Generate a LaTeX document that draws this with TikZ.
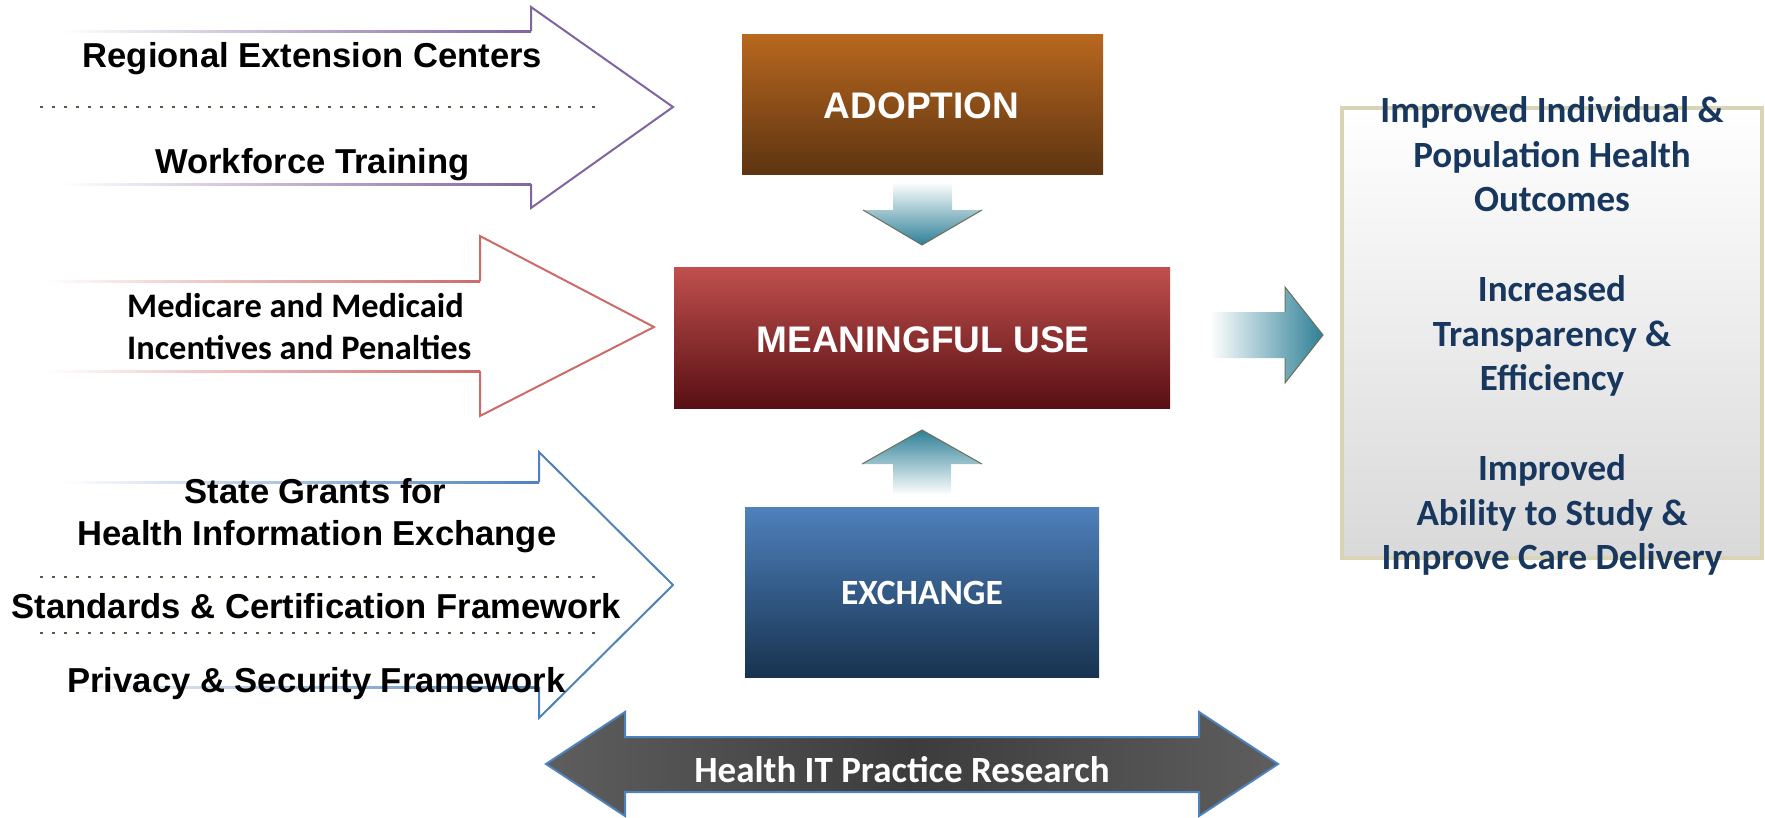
\documentclass[tikz,border=0pt]{standalone}
\usepackage{fontspec}
\setmainfont{Liberation Sans}
\newfontfamily\calfont{Carlito}
\definecolor{purp}{HTML}{8064A2}
\definecolor{redl}{HTML}{CD6B69}
\definecolor{bluel}{HTML}{4F81BD}
\definecolor{teal}{HTML}{2E8097}
\definecolor{headln}{HTML}{6E6E5C}
\definecolor{dotc}{HTML}{5F5A45}
\definecolor{navy}{HTML}{17375E}
\definecolor{adtop}{HTML}{B9681F}
\definecolor{adbot}{HTML}{5D3411}
\definecolor{mutop}{HTML}{C0504D}
\definecolor{mubot}{HTML}{580F13}
\definecolor{extop}{HTML}{4F81BD}
\definecolor{exbot}{HTML}{17334F}
\definecolor{outbd}{HTML}{D9D4B6}
\definecolor{darkg}{HTML}{3C3C3C}
\definecolor{midg}{HTML}{5E5E5E}
\tikzset{
  lefttxt/.style={anchor=base, inner sep=0pt, font=\fontsize{34.6}{41}\selectfont\bfseries},
  redtxt/.style={anchor=base west, inner sep=0pt, font=\calfont\fontsize{34.4}{41}\selectfont\bfseries},
  outtxt/.style={anchor=base, inner sep=0pt, text=navy, font=\calfont\fontsize{37}{45}\selectfont\bfseries},
  boxtxt/.style={anchor=base, inner sep=0pt, text=white, font=\fontsize{37}{45}\selectfont\bfseries},
  dotline/.style={dotc, line width=2.5pt, dash pattern=on 2.5pt off 9.5pt},
  outline/.style={line width=2pt, line join=miter},
}
\begin{document}
\begin{tikzpicture}[x=1pt,y=-1pt]
\useasboundingbox (0,0) rectangle (1765,817);

% ---- purple arrow
\shade[left color=white, right color=purp] (62,30) rectangle (531,32);
\shade[left color=white, right color=purp] (62,183) rectangle (531,185);
\draw[purp, outline] (531,31) -- (531,7) -- (673,107) -- (531,208) -- (531,184);
\draw[dotline] (40,107) -- (598,107);
\node[lefttxt] (rec) at (312.5,67) {Regional Extension Centers};
\node[lefttxt] (wft) at (312.5,173) {Workforce Training};

% ---- red arrow
\shade[left color=white, right color=redl] (45,280) rectangle (480,282);
\shade[left color=white, right color=redl] (45,370) rectangle (480,372);
\draw[redl, outline] (480,281) -- (480,236) -- (654,327) -- (480,416) -- (480,371);
\node[redtxt] (mm) at (127,317) {Medicare and Medicaid};
\node[redtxt] (ip) at (127,359) {Incentives and Penalties};

% ---- blue arrow
\shade[left color=white, right color=bluel] (62,481) rectangle (539,483);
\shade[left color=white, right color=bluel] (62,686) rectangle (539,688);
\draw[bluel, outline] (539,482) -- (539,452) -- (673,585) -- (539,718) -- (539,687);
\draw[dotline] (40,577) -- (598,577);
\draw[dotline] (40,633) -- (598,633);
\node[lefttxt] (sg) at (315.5,503) {State Grants for};
\node[lefttxt] (hie) at (317,545) {Health Information Exchange};
\node[lefttxt] (scf) at (316.5,618) {Standards \& Certification Framework};
\node[lefttxt] (psf) at (316.5,692) {Privacy \& Security Framework};

% ---- central boxes
\node[top color=adtop, bottom color=adbot, minimum width=361pt, minimum height=140pt, inner sep=0pt] (adopt) at (922.5,104) {};
\node[boxtxt] (adoptt) at (921.5,118) {ADOPTION};
\node[top color=mutop, bottom color=mubot, minimum width=496pt, minimum height=141pt, inner sep=0pt] (mu) at (922,337.5) {};
\node[boxtxt] (mut) at (923,352) {MEANINGFUL USE};
\node[top color=extop, bottom color=exbot, minimum width=354pt, minimum height=170pt, inner sep=0pt] (ex) at (922,592) {};
\node[boxtxt, font=\calfont\fontsize{35.5}{43}\selectfont\bfseries] (ext) at (922,604) {EXCHANGE};

% ---- down arrow
\shade[top color=white, bottom color=teal] (893,182) -- (952,182) -- (952,210) -- (982,210) -- (922,245) -- (863,210) -- (893,210) -- cycle;
\draw[headln, line width=1pt] (982,210) -- (922,245) -- (863,210);
% ---- up arrow
\shade[bottom color=white, top color=teal] (893,495) -- (951,495) -- (951,464) -- (982,464) -- (922,430) -- (862,464) -- (893,464) -- cycle;
\draw[headln, line width=1pt] (982,464) -- (922,430) -- (862,464);
% ---- right arrow
\shade[left color=white, right color=teal] (1210,312) -- (1285,312) -- (1285,287) -- (1323,335) -- (1285,383) -- (1285,358) -- (1210,358) -- cycle;
\draw[headln, line width=1pt] (1285,312) -- (1285,287) -- (1323,335) -- (1285,383) -- (1285,358);

% ---- outcomes box
\node[draw=outbd, line width=4pt, top color=white, bottom color=black!15, minimum width=420pt, minimum height=450pt, inner sep=0pt] (out) at (1552,333) {};
\node[outtxt] (o1) at (1552,122) {Improved Individual \&};
\node[outtxt] (o2) at (1552,167) {Population Health};
\node[outtxt] (o3) at (1552,211) {Outcomes};
\node[outtxt] (o4) at (1552,301) {Increased};
\node[outtxt] (o5) at (1552,346) {Transparency \&};
\node[outtxt] (o6) at (1552,390) {Efficiency};
\node[outtxt] (o7) at (1552,480) {Improved};
\node[outtxt] (o8) at (1552,525) {Ability to Study \&};
\node[outtxt] (o9) at (1552,569) {Improve Care Delivery};

% ---- bottom double arrow
\shade[left color=midg, right color=midg, middle color=darkg] (546,764) -- (625,712) -- (625,737) -- (1199,737) -- (1199,712) -- (1278,764) -- (1199,816) -- (1199,792) -- (625,792) -- (625,816) -- cycle;
\draw[bluel, line width=2pt, line join=miter] (546,764) -- (625,712) -- (625,737) -- (1199,737) -- (1199,712) -- (1278,764) -- (1199,816) -- (1199,792) -- (625,792) -- (625,816) -- cycle;
\node[anchor=base, inner sep=0pt, text=white, font=\calfont\fontsize{37}{45}\selectfont\bfseries] (hit) at (902,782) {Health IT Practice Research};
\end{tikzpicture}
\end{document}
